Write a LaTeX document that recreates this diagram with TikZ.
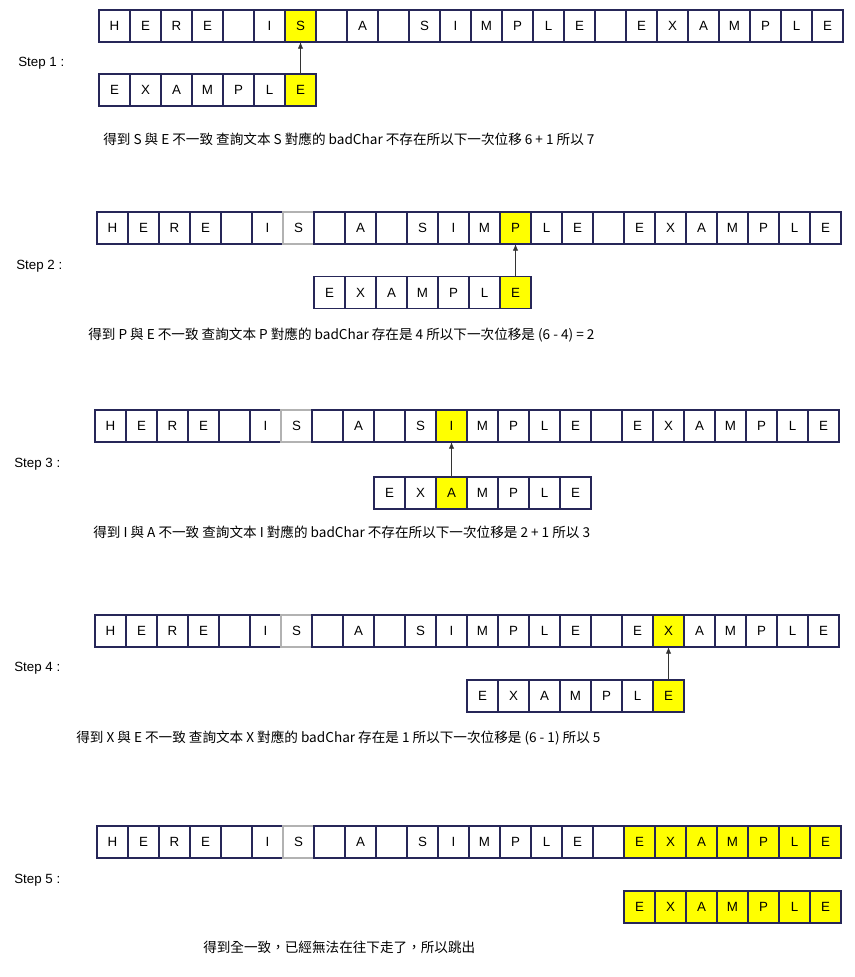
\documentclass[tikz,border=0pt]{standalone}
\usepackage{fontspec}
\setmainfont{Liberation Sans}
\newfontfamily\cjk{Noto Sans CJK TC}
\usepackage{tikz}
\usetikzlibrary{positioning,arrows.meta}
\definecolor{cellline}{RGB}{38,38,88}
\definecolor{hilite}{RGB}{255,255,0}
\definecolor{arrowline}{RGB}{51,51,51}

\begin{document}
\begin{tikzpicture}[x=0.75pt,y=0.75pt,yscale=-1,xscale=1,
        cell/.style={draw=cellline,line width=0.8pt,minimum width=23.25pt,minimum height=24pt,inner sep=0pt,outer sep=0pt,font=\fontsize{10}{12}\selectfont},
        steplabel/.style={anchor=west,inner sep=0pt,font=\fontsize{10}{12}\selectfont},
        caption/.style={anchor=west,inner sep=0pt,font=\cjk\fontsize{10.2}{12}\selectfont},
        match/.style={arrowline,line width=0.6pt,-{Latex[length=5pt,width=4pt]}}]
        \useasboundingbox (0,0) rectangle (855,977);
        
        %Step 1 text row
        \foreach \c [count=\i from 0] in {H,E,R,E,{},I,S,{},A,{},S,I,M,P,L,E,{},E,X,A,M,P,L,E}{
          \ifnum\i=6 \def\f{hilite}\else\def\f{white}\fi
          \node[cell,fill=\f] (t1-\i) at ({114.5+31*\i},26) {\c};
        }
        %Step 1 pattern row
        \foreach \c [count=\i from 0] in {E,X,A,M,P,L,E}{
          \ifnum\i=6 \def\f{hilite}\else\def\f{white}\fi
          \node[cell,fill=\f] (p1-\i) at ({114.5+31*\i},90) {\c};
        }
        \draw[match] (p1-6.north) -- (t1-6.south);
        
        %Step 2 text row
        \foreach \c [count=\i from 0] in {H,E,R,E,{},I,S,{},A,{},S,I,M,P,L,E,{},E,X,A,M,P,L,E}{
          \ifnum\i=13 \def\f{hilite}\else\def\f{white}\fi
          \ifnum\i=6 \def\d{gray!60}\else\def\d{cellline}\fi
          \node[cell,fill=\f,draw=\d] (t2-\i) at ({112.5+31*\i},228) {\c};
        }
        %Step 2 pattern row
        \foreach \c [count=\i from 0] in {E,X,A,M,P,L,E}{
          \ifnum\i=6 \def\f{hilite}\else\def\f{white}\fi
          \node[cell,fill=\f] (p2-\i) at ({329.5+31*\i},292.5) {\c};
        }
        \draw[match] (p2-6.north) -- (t2-13.south);
        
        %Step 3 text row
        \foreach \c [count=\i from 0] in {H,E,R,E,{},I,S,{},A,{},S,I,M,P,L,E,{},E,X,A,M,P,L,E}{
          \ifnum\i=11 \def\f{hilite}\else\def\f{white}\fi
          \ifnum\i=6 \def\d{gray!60}\else\def\d{cellline}\fi
          \node[cell,fill=\f,draw=\d] (t3-\i) at ({110.5+31*\i},426) {\c};
        }
        %Step 3 pattern row
        \foreach \c [count=\i from 0] in {E,X,A,M,P,L,E}{
          \ifnum\i=2 \def\f{hilite}\else\def\f{white}\fi
          \node[cell,fill=\f] (p3-\i) at ({389.5+31*\i},493) {\c};
        }
        \draw[match] (p3-2.north) -- (t3-11.south);
        
        %Step 4 text row
        \foreach \c [count=\i from 0] in {H,E,R,E,{},I,S,{},A,{},S,I,M,P,L,E,{},E,X,A,M,P,L,E}{
          \ifnum\i=18 \def\f{hilite}\else\def\f{white}\fi
          \ifnum\i=6 \def\d{gray!60}\else\def\d{cellline}\fi
          \node[cell,fill=\f,draw=\d] (t4-\i) at ({110.5+31*\i},631) {\c};
        }
        %Step 4 pattern row
        \foreach \c [count=\i from 0] in {E,X,A,M,P,L,E}{
          \ifnum\i=6 \def\f{hilite}\else\def\f{white}\fi
          \node[cell,fill=\f] (p4-\i) at ({482.5+31*\i},696) {\c};
        }
        \draw[match] (p4-6.north) -- (t4-18.south);
        
        %Step 5 text row
        \foreach \c [count=\i from 0] in {H,E,R,E,{},I,S,{},A,{},S,I,M,P,L,E,{},E,X,A,M,P,L,E}{
          \ifnum\i>16 \def\f{hilite}\else\def\f{white}\fi
          \ifnum\i=6 \def\d{gray!60}\else\def\d{cellline}\fi
          \node[cell,fill=\f,draw=\d] (t5-\i) at ({112.5+31*\i},842) {\c};
        }
        %Step 5 pattern row
        \foreach \c [count=\i from 0] in {E,X,A,M,P,L,E}{
          \node[cell,fill=hilite] (p5-\i) at ({639.5+31*\i},907) {\c};
        }
        
        % Text Node
        \node[steplabel] (step1) at (18,63) {Step 1 :};
        % Text Node
        \node[steplabel] (step2) at (16,266) {Step 2 :};
        % Text Node
        \node[steplabel] (step3) at (14,464) {Step 3 :};
        % Text Node
        \node[steplabel] (step4) at (14,668) {Step 4 :};
        % Text Node
        \node[steplabel] (step5) at (14,880) {Step 5 :};
        
        % Text Node
        \node[caption] (cap1) at (103,139) {得到 S 與 E 不一致 查詢文本 S 對應的 badChar 不存在所以下一次位移 6 + 1 所以 7};
        % Text Node
        \node[caption] (cap2) at (88,335) {得到 P 與 E 不一致 查詢文本 P 對應的 badChar 存在是 4 所以下一次位移是 (6 - 4) = 2};
        % Text Node
        \node[caption] (cap3) at (93,532) {得到 I 與 A 不一致 查詢文本 I 對應的 badChar 不存在所以下一次位移是 2 + 1 所以 3};
        % Text Node
        \node[caption] (cap4) at (76,738) {得到 X 與 E 不一致 查詢文本 X 對應的 badChar 存在是 1 所以下一次位移是 (6 - 1) 所以 5};
        % Text Node
        \node[caption] (cap5) at (203,947) {得到全一致，已經無法在往下走了，所以跳出};
        \end{tikzpicture}
\end{document}
